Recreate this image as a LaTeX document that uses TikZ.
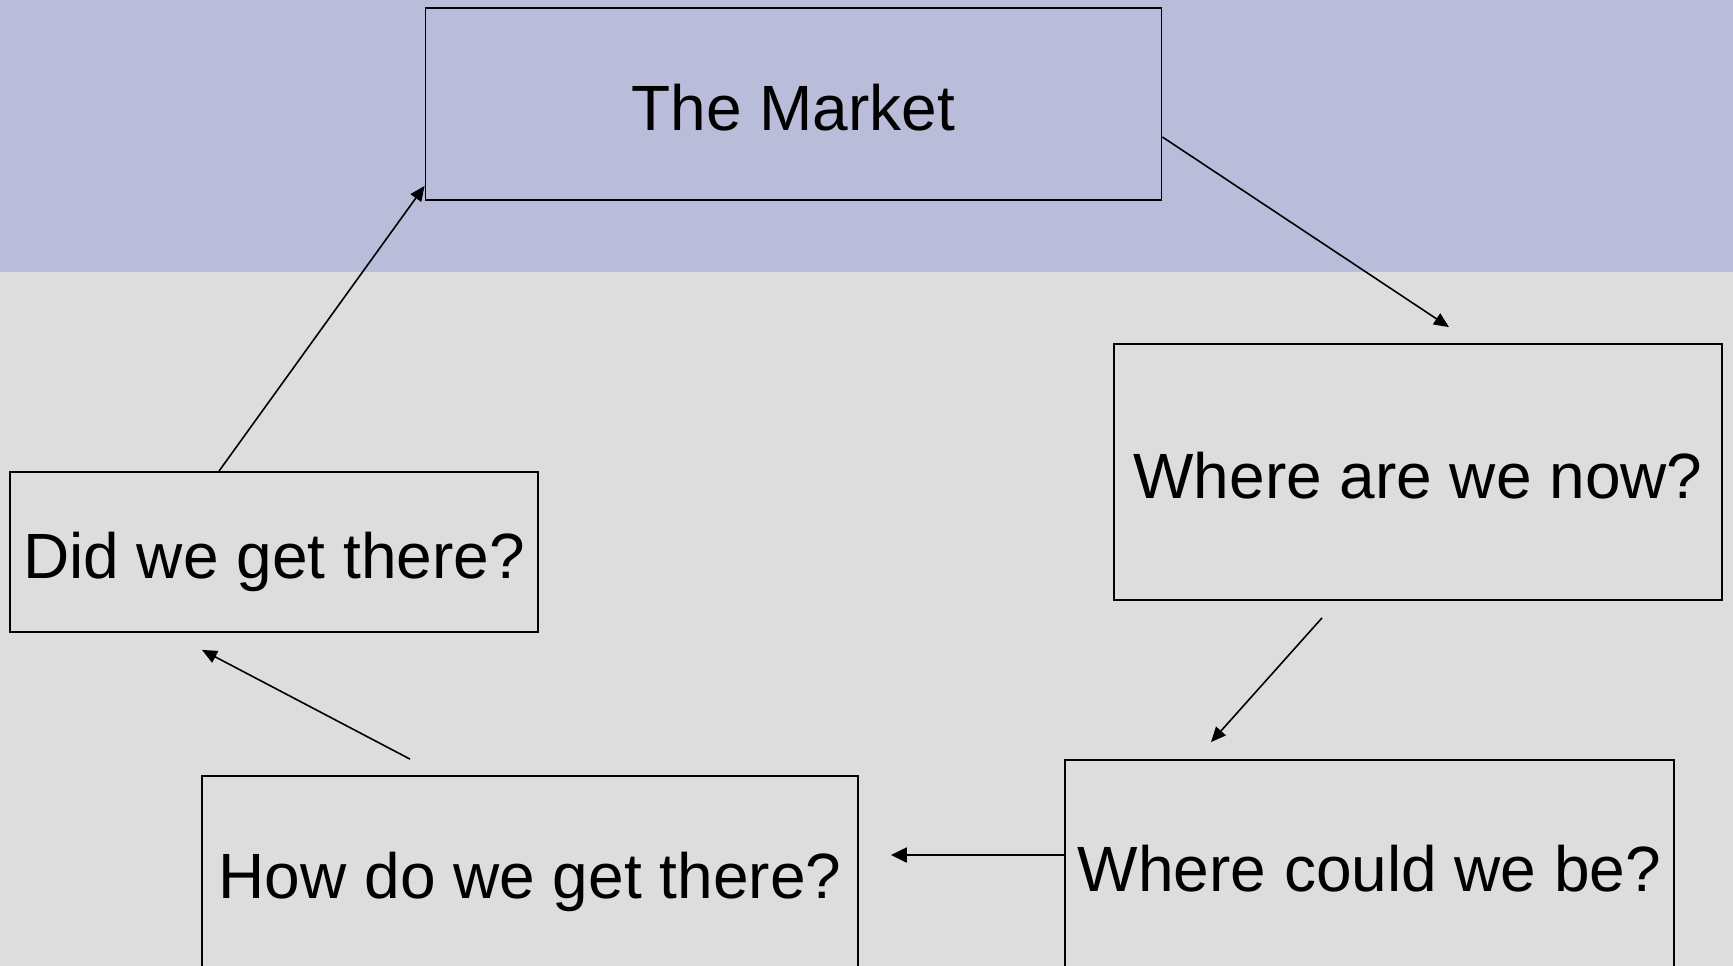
\documentclass[tikz,border=0pt]{standalone}
\usepackage{fontspec}
\setmainfont{Liberation Sans}
\usetikzlibrary{arrows.meta,calc}
\definecolor{bandblue}{RGB}{185,189,217}
\definecolor{bggray}{RGB}{221,221,221}
\begin{document}
\begin{tikzpicture}[x=1pt,y=-1pt,
  qbox/.style={draw=black,line width=1.8pt,inner sep=0pt,
    font=\fontsize{64}{76}\selectfont,text height=52pt,text depth=0pt,align=center},
  conn/.style={line width=1.6pt,-{Triangle[length=15pt,width=13pt]}},
  connthick/.style={line width=2.2pt,-{Triangle[length=16pt,width=15pt]}}]
\useasboundingbox (0,0) rectangle (1733,966);
\clip (0,0) rectangle (1733,966);
\fill[bggray] (0,0) rectangle (1733,966);
\fill[bandblue] (0,0) rectangle (1733,272);
\node[qbox,minimum width=736pt,minimum height=192pt] (m) at (793.5,104) {The Market};
\node[qbox,minimum width=608pt,minimum height=256pt] (now) at (1418,472) {Where are we now?};
\node[qbox,minimum width=528pt,minimum height=160pt] (did) at (274,552) {Did we get there?};
\node[qbox,minimum width=656pt,minimum height=192pt] (how) at (530,872) {How do we get there?};
\node[qbox,minimum width=609pt,minimum height=210pt] (could) at (1369.5,865) {Where could we be?};
\coordinate (a1s) at ($(m.east)+(0,33)$);
\coordinate (a1e) at ($(now.north)+(31,-16)$);
\coordinate (a2s) at ($(now.south)+(-96,17)$);
\coordinate (a2e) at ($(could.north)+(-158.5,-17)$);
\coordinate (a3s) at ($(could.west)+(0,-10)$);
\coordinate (a3e) at ($(how.east)+(32,-17)$);
\coordinate (a4s) at ($(how.north)+(-120,-16)$);
\coordinate (a4e) at ($(did.south)+(-72,17)$);
\coordinate (a5s) at ($(did.north)+(-55,0)$);
\coordinate (a5e) at ($(m.south west)+(0,-15)$);
\draw[conn] (a1s) -- (a1e);
\draw[conn] (a2s) -- (a2e);
\draw[connthick] (a3s) -- (a3e);
\draw[conn] (a4s) -- (a4e);
\draw[conn] (a5s) -- (a5e);
\end{tikzpicture}
\end{document}
